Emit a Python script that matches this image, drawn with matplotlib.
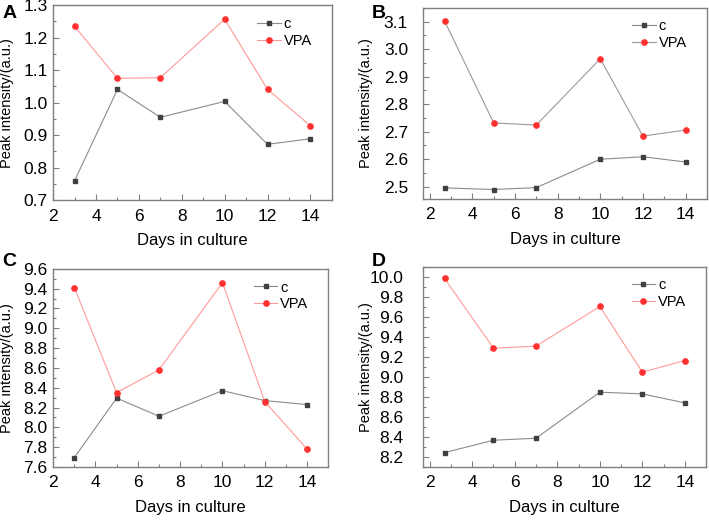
import numpy as np
import matplotlib
matplotlib.use("Agg")
import matplotlib.pyplot as plt
from matplotlib.ticker import MultipleLocator, FormatStrFormatter

plt.rcParams["font.family"] = ["Liberation Sans", "DejaVu Sans"]

# days in culture (B and D start slightly before day 3 in the original)
days_ac = [3, 5, 7, 10, 12, 14]
days_bd = [2.7, 5, 7, 10, 12, 14]

a_c = [0.760, 1.041, 0.955, 1.004, 0.872, 0.889]
a_vpa = [1.235, 1.075, 1.077, 1.257, 1.041, 0.929]

b_c = [2.496, 2.490, 2.497, 2.600, 2.609, 2.590]
b_vpa = [3.102, 2.732, 2.724, 2.965, 2.684, 2.706]

c_c = [7.695, 8.295, 8.112, 8.370, 8.270, 8.230]
c_vpa = [9.410, 8.350, 8.580, 9.460, 8.260, 7.780]

d_c = [8.243, 8.367, 8.387, 8.847, 8.830, 8.740]
d_vpa = [9.983, 9.287, 9.307, 9.703, 9.047, 9.163]

# letter, axes rect, x, c, VPA, xlim, ylim, y step, VPA line colour,
# letter y, y tick pad, y label x (axes coords)
panels = [
    ("A", [0.075, 0.615, 0.393, 0.375], days_ac, a_c, a_vpa, (2, 15), (0.7, 1.3), 0.1,
     "#ff9a9a", 0.975, 4, -0.140),
    ("B", [0.597, 0.617, 0.400, 0.368], days_bd, b_c, b_vpa, (1.7, 15), (2.455, 3.15), 0.1,
     "#9a9a9a", 0.975, 11, -0.176),
    ("C", [0.075, 0.102, 0.388, 0.381], days_ac, c_c, c_vpa, (2, 15), (7.6, 9.6), 0.2,
     "#ff9a9a", 0.497, 4, -0.142),
    ("D", [0.597, 0.102, 0.399, 0.385], days_bd, d_c, d_vpa, (1.7, 15), (8.1, 10.1), 0.2,
     "#ff9a9a", 0.497, 14, -0.177),
]

spine_col = "#7f7f7f"

fig = plt.figure(figsize=(7.09, 5.2), dpi=100)

for letter, rect, x, yc, yv, xlim, ylim, ystep, vcol, ly, ypad, ylx in panels:
    ax = fig.add_axes(rect)
    ax.plot(x, yc, color="#8c8c8c", lw=0.8, marker="s", ms=3.2,
            mfc="#404040", mec="#404040", label="c")
    ax.plot(x, yv, color=vcol, lw=0.8, marker="o", ms=3.8,
            mfc="#ff3030", mec="#ff3030", label="VPA")
    ax.set_xlim(*xlim)
    ax.set_ylim(*ylim)
    ax.xaxis.set_major_locator(MultipleLocator(2))
    ax.xaxis.set_minor_locator(MultipleLocator(1))
    ax.yaxis.set_major_locator(MultipleLocator(ystep))
    ax.yaxis.set_minor_locator(MultipleLocator(ystep / 2))
    ax.yaxis.set_major_formatter(FormatStrFormatter("%.1f"))
    ax.tick_params(which="both", direction="in", colors=spine_col,
                   labelcolor="black", labelsize=12.5)
    ax.tick_params(axis="x", which="major", pad=6)
    ax.tick_params(axis="y", which="major", pad=ypad)
    ax.tick_params(which="major", length=4, width=0.8)
    ax.tick_params(which="minor", length=2, width=0.8)
    for s in ax.spines.values():
        s.set_color(spine_col)
        s.set_linewidth(1.0)
    ax.set_xlabel("Days in culture", fontsize=12, labelpad=7)
    ax.set_ylabel("Peak intensity/(a.u.)", fontsize=10.5)
    ax.yaxis.set_label_coords(ylx, 0.5)
    ax.legend(loc="upper right", frameon=False, fontsize=10.5,
              handlelength=1.6, handletextpad=0.2, borderaxespad=0.4,
              labelspacing=0.2, bbox_to_anchor=(0.97, 1.0))
    fig.text(rect[0] - 0.072, ly, letter,
             fontsize=14, fontweight="bold", va="center", ha="left")

fig.savefig("out.png", dpi=100)
